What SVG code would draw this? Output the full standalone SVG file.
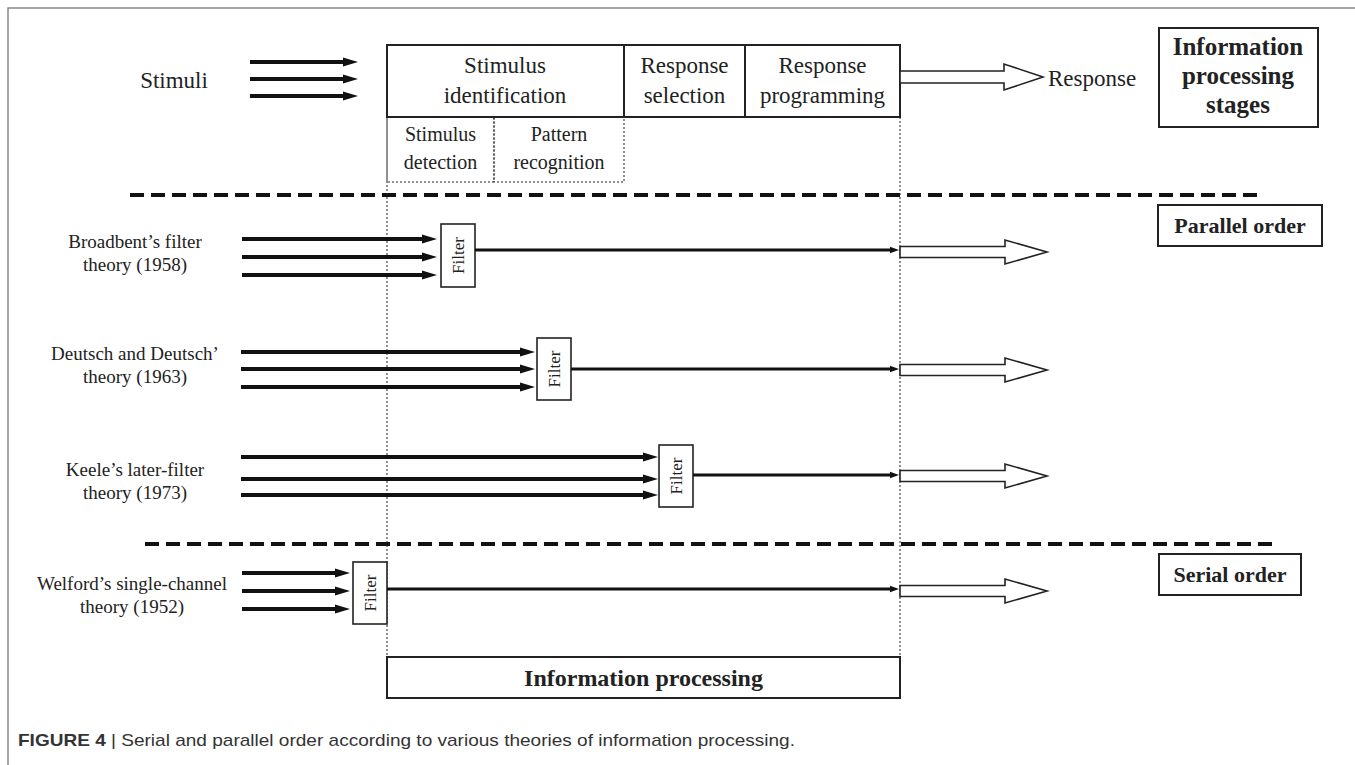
<svg xmlns="http://www.w3.org/2000/svg" width="1355" height="765" viewBox="0 0 1355 765">
<style>
.t{font-family:"Liberation Serif","Times New Roman",serif;fill:#222}
.b{font-weight:bold}
.box{fill:#fff;stroke:#222;stroke-width:2}
.dot{fill:none;stroke:#222;stroke-width:1;stroke-dasharray:2 2}
.in{stroke:#111;stroke-width:4;fill:none}
.out{stroke:#111;stroke-width:3;fill:none}
.hol{fill:#fff;stroke:#222;stroke-width:1.6;stroke-linejoin:miter}
.dash{stroke:#111;stroke-width:4;stroke-dasharray:14 7;fill:none}
.filt{fill:#fff;stroke:#222;stroke-width:1.6}
</style>
<defs>
<marker id="ah" markerUnits="userSpaceOnUse" markerWidth="16" markerHeight="10" refX="0" refY="5" orient="auto" overflow="visible">
<path d="M0,0.5 L15,5 L0,9.5 Z" fill="#111"/>
</marker>
<marker id="ahs" markerUnits="userSpaceOnUse" markerWidth="10" markerHeight="8" refX="0" refY="4" orient="auto" overflow="visible">
<path d="M0,0.8 L9,4 L0,7.2 Z" fill="#111"/>
</marker>
</defs>
<rect width="1355" height="765" fill="#fff"/>
<path d="M8,765 V8 H1355" fill="none" stroke="#888" stroke-width="1.5"/>

<g id="dividers">
<line class="dash" x1="130" y1="195" x2="1257" y2="195"/>
<line class="dash" x1="145" y1="544" x2="1272" y2="544"/>
<line class="dot" x1="387" y1="117" x2="387" y2="657"/>
<line class="dot" x1="900" y1="117" x2="900" y2="657"/>
</g>

<g id="stimuli">
<text class="t" x="174" y="88" font-size="23" text-anchor="middle">Stimuli</text>
</g>

<g id="stage-stimulus-identification">
<rect class="box" x="387" y="45" width="237" height="72"/>
<text class="t" x="505" y="73" font-size="23" text-anchor="middle">Stimulus</text>
<text class="t" x="505" y="103" font-size="23" text-anchor="middle">identification</text>
</g>
<g id="stage-response-selection">
<rect class="box" x="624" y="45" width="121" height="72"/>
<text class="t" x="684.5" y="73" font-size="23" text-anchor="middle">Response</text>
<text class="t" x="684.5" y="103" font-size="23" text-anchor="middle">selection</text>
</g>
<g id="stage-response-programming">
<rect class="box" x="745" y="45" width="155" height="72"/>
<text class="t" x="822.5" y="73" font-size="23" text-anchor="middle">Response</text>
<text class="t" x="822.5" y="103" font-size="23" text-anchor="middle">programming</text>
</g>
<g id="stage-stimulus-detection">
<rect class="dot" x="387" y="117" width="107" height="65"/>
<text class="t" x="440.5" y="141" font-size="20" text-anchor="middle">Stimulus</text>
<text class="t" x="440.5" y="169" font-size="20" text-anchor="middle">detection</text>
</g>
<g id="stage-pattern-recognition">
<rect class="dot" x="494" y="117" width="130" height="65"/>
<text class="t" x="559" y="141" font-size="20" text-anchor="middle">Pattern</text>
<text class="t" x="559" y="169" font-size="20" text-anchor="middle">recognition</text>
</g>

<g id="response">
<text class="t" x="1048" y="86" font-size="23">Response</text>
</g>

<g id="label-info-stages">
<rect class="box" x="1159" y="28" width="159" height="99"/>
<text class="t b" x="1238" y="55" font-size="25" text-anchor="middle">Information</text>
<text class="t b" x="1238" y="84" font-size="25" text-anchor="middle">processing</text>
<text class="t b" x="1238" y="113" font-size="25" text-anchor="middle">stages</text>
</g>

<g id="label-parallel">
<rect class="box" x="1158" y="205" width="164" height="41"/>
<text class="t b" x="1240" y="233" font-size="22" text-anchor="middle">Parallel order</text>
</g>

<g id="label-serial">
<rect class="box" x="1159" y="554" width="142" height="41"/>
<text class="t b" x="1230" y="582" font-size="22" text-anchor="middle">Serial order</text>
</g>

<g id="theory-broadbent">
<text class="t" x="135" y="248" font-size="19" text-anchor="middle">Broadbent’s filter</text>
<text class="t" x="135" y="271" font-size="19" text-anchor="middle">theory (1958)</text>
</g>
<g id="theory-deutsch">
<text class="t" x="135" y="360" font-size="19" text-anchor="middle">Deutsch and Deutsch’</text>
<text class="t" x="135" y="383" font-size="19" text-anchor="middle">theory (1963)</text>
</g>
<g id="theory-keele">
<text class="t" x="135" y="476" font-size="19" text-anchor="middle">Keele’s later-filter</text>
<text class="t" x="135" y="499" font-size="19" text-anchor="middle">theory (1973)</text>
</g>
<g id="theory-welford">
<text class="t" x="132" y="590" font-size="19" text-anchor="middle">Welford’s single-channel</text>
<text class="t" x="132" y="613" font-size="19" text-anchor="middle">theory (1952)</text>
</g>

<g id="filter-broadbent">
<rect class="filt" x="441" y="224" width="34" height="63"/>
<text class="t" transform="translate(458,255.5) rotate(-90)" font-size="17" text-anchor="middle" dy="6">Filter</text>
</g>
<g id="filter-deutsch">
<rect class="filt" x="537" y="338" width="34" height="62"/>
<text class="t" transform="translate(554,369) rotate(-90)" font-size="17" text-anchor="middle" dy="6">Filter</text>
</g>
<g id="filter-keele">
<rect class="filt" x="659" y="445" width="34" height="62"/>
<text class="t" transform="translate(676,476) rotate(-90)" font-size="17" text-anchor="middle" dy="6">Filter</text>
</g>
<g id="filter-welford">
<rect class="filt" x="353" y="562" width="34" height="62"/>
<text class="t" transform="translate(370,593) rotate(-90)" font-size="17" text-anchor="middle" dy="6">Filter</text>
</g>

<g id="info-processing">
<rect class="box" x="387" y="657" width="513" height="41"/>
<text class="t b" x="643.5" y="686" font-size="24" text-anchor="middle">Information processing</text>
</g>

<g id="connectors">
<line class="in" x1="250" y1="62" x2="343" y2="62" marker-end="url(#ah)"/>
<line class="in" x1="250" y1="79" x2="343" y2="79" marker-end="url(#ah)"/>
<line class="in" x1="250" y1="96" x2="343" y2="96" marker-end="url(#ah)"/>

<line class="in" x1="242" y1="239" x2="422" y2="239" marker-end="url(#ah)"/>
<line class="in" x1="242" y1="257" x2="422" y2="257" marker-end="url(#ah)"/>
<line class="in" x1="242" y1="275" x2="422" y2="275" marker-end="url(#ah)"/>

<line class="in" x1="241" y1="352" x2="520" y2="352" marker-end="url(#ah)"/>
<line class="in" x1="241" y1="369" x2="520" y2="369" marker-end="url(#ah)"/>
<line class="in" x1="241" y1="387" x2="520" y2="387" marker-end="url(#ah)"/>

<line class="in" x1="241" y1="457" x2="643" y2="457" marker-end="url(#ah)"/>
<line class="in" x1="241" y1="479" x2="643" y2="479" marker-end="url(#ah)"/>
<line class="in" x1="241" y1="495" x2="643" y2="495" marker-end="url(#ah)"/>

<line class="in" x1="242" y1="573" x2="335" y2="573" marker-end="url(#ah)"/>
<line class="in" x1="242" y1="591" x2="335" y2="591" marker-end="url(#ah)"/>
<line class="in" x1="242" y1="609" x2="335" y2="609" marker-end="url(#ah)"/>

<line class="out" x1="475" y1="250" x2="890" y2="250" marker-end="url(#ahs)"/>
<line class="out" x1="571" y1="369" x2="890" y2="369" marker-end="url(#ahs)"/>
<line class="out" x1="693" y1="475" x2="890" y2="475" marker-end="url(#ahs)"/>
<line class="out" x1="387" y1="589" x2="890" y2="589" marker-end="url(#ahs)"/>

<path class="hol" d="M900,71 H1004 V64 L1043,77 L1004,90 V83 H900 Z"/>
<path class="hol" d="M900,246.5 H1005 V240 L1047,252 L1005,264 V257.5 H900 Z"/>
<path class="hol" d="M900,364.5 H1005 V358 L1047,370 L1005,382 V375.5 H900 Z"/>
<path class="hol" d="M900,470.5 H1005 V464 L1047,476 L1005,488 V481.5 H900 Z"/>
<path class="hol" d="M900,585.5 H1005 V579 L1047,591 L1005,603 V596.5 H900 Z"/>
</g>

<g id="caption">
<text x="18" y="746" font-family="'Liberation Sans',Arial,sans-serif" font-size="17" fill="#333" textLength="777" lengthAdjust="spacingAndGlyphs"><tspan font-weight="bold">FIGURE 4</tspan> | Serial and parallel order according to various theories of information processing.</text>
</g>
</svg>
